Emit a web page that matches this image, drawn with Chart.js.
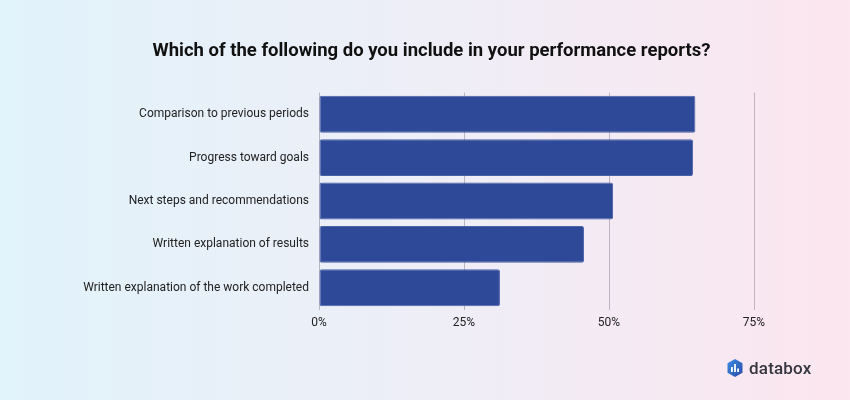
<!DOCTYPE html>
<html>
<head>
<meta charset="utf-8">
<script src="https://cdn.jsdelivr.net/npm/chart.js@4/dist/chart.umd.min.js"></script>
<style>
  html, body { margin: 0; padding: 0; }
  body {
    width: 850px; height: 400px; overflow: hidden; position: relative;
    background: linear-gradient(to right, #e1f3fb 0%, #eeeef7 50%, #fce6ef 100%);
    font-family: Roboto, sans-serif;
  }
  #wrap { position: absolute; left: 0; top: 0; width: 850px; height: 400px; }
  #title {
    position: absolute; left: 0; width: 863px; top: 39px; text-align: center;
    font-family: Roboto, sans-serif; font-weight: bold; font-size: 18.5px; color: #111;
  }
  #logo { position: absolute; left: 727px; top: 358px; display: flex; align-items: center; }
  #logo span { font-family: Roboto, sans-serif; font-weight: 500; font-size: 17px; color: #35363f; margin-left: 6px; letter-spacing: 0.2px; }
</style>
</head>
<body>
<div id="wrap"><canvas id="myChart" width="850" height="400"></canvas></div>
<div id="title">Which of the following do you include in your performance reports?</div>
<div id="logo">
  <svg width="16" height="18" viewBox="0 0 16 18">
    <defs>
      <linearGradient id="g" x1="0" y1="0" x2="1" y2="1">
        <stop offset="0" stop-color="#3a8ee6"/>
        <stop offset="1" stop-color="#2b4aa6"/>
      </linearGradient>
    </defs>
    <path d="M8 0 L15.5 4.3 L15.5 13.7 L8 18 L0.5 13.7 L0.5 4.3 Z" fill="url(#g)"/>
    <rect x="4" y="8" width="1.8" height="5" fill="#fff"/>
    <rect x="7.1" y="5" width="1.8" height="8" fill="#fff"/>
    <rect x="10.2" y="9.5" width="1.8" height="3.5" fill="#fff"/>
  </svg>
  <span>databox</span>
</div>
<script>
const labels = [
    'Comparison to previous periods',
    'Progress toward goals',
    'Next steps and recommendations',
    'Written explanation of results',
    'Written explanation of the work completed'
];

const values = [64.9, 64.5, 50.7, 45.7, 31.2];

const tickValues = [0, 25, 50, 75];

const dataGraph = {
    labels: labels,
    datasets: [{
      label: 'Share of respondents',
      data: values,
      backgroundColor: '#2e4997',
      borderColor: '#4a62a8',
      borderWidth: 1,
      borderRadius: 2,
      borderSkipped: false,
      barPercentage: 0.85,
      categoryPercentage: 1
    }]
};

const ctx = document.getElementById('myChart').getContext('2d');
const myChart = new Chart(ctx, {
    type: 'bar',
    data: dataGraph,
    options: {
        indexAxis: 'y',
        responsive: false,
        animation: false,
        layout: { padding: { left: 0, right: 96, top: 92.6, bottom: 0 } },
        plugins: {
            legend: { display: false },
            tooltip: { enabled: false }
        },
        scales: {
            x: {
                min: 0,
                max: 75,
                afterBuildTicks: axis => { axis.ticks = tickValues.map(v => ({ value: v })); },
                afterFit: axis => { axis.height = 90.5; },
                grid: { color: 'rgba(120,115,130,0.45)', lineWidth: 1, drawTicks: false },
                border: { display: false },
                ticks: {
                    padding: 6,
                    color: '#222',
                    font: { family: 'Roboto', size: 12 },
                    callback: value => value + '%'
                }
            },
            y: {
                afterFit: axis => { axis.width = 319; },
                grid: { display: false, drawTicks: false },
                border: { display: false },
                ticks: {
                    padding: 10,
                    color: '#222',
                    font: { family: 'Roboto', size: 12 }
                }
            }
        }
    }
});
</script>
</body>
</html>
